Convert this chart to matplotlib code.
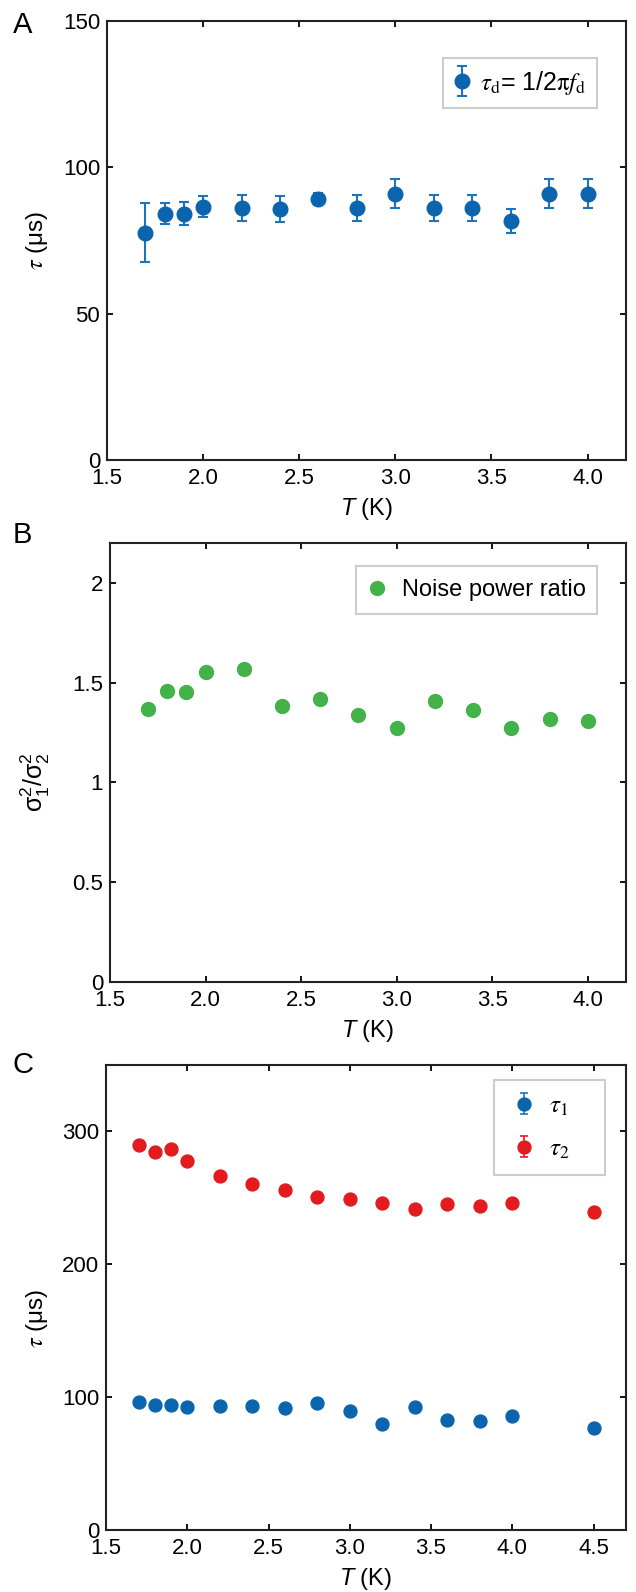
import matplotlib
matplotlib.use("Agg")
import matplotlib.pyplot as plt
from matplotlib.ticker import FixedLocator
from matplotlib.container import ErrorbarContainer
from matplotlib.legend_handler import HandlerErrorbar

plt.rcParams.update({
    'font.family': ['Liberation Sans', 'DejaVu Sans'],
    'font.size': 16,
    'mathtext.fontset': 'custom',
    'mathtext.rm': 'Liberation Sans',
    'mathtext.it': 'Liberation Sans:italic',
    'axes.linewidth': 1.5,
    'axes.edgecolor': '#222222',
    'xtick.direction': 'in',
    'ytick.direction': 'in',
    'xtick.top': True,
    'ytick.right': True,
    'xtick.major.size': 4,
    'ytick.major.size': 4,
    'xtick.major.width': 1.3,
    'ytick.major.width': 1.3,
})

# panel A
temps_a = [1.7, 1.8, 1.9, 2.0, 2.2, 2.4, 2.6, 2.8, 3.0, 3.2, 3.4, 3.6, 3.8, 4.0]
tau_d = [77.7, 84.2, 84.2, 86.5, 86.0, 85.7, 89.2, 86.0, 91.0, 86.0, 86.0, 81.7, 91.0, 91.0]
tau_d_err = [10.0, 3.5, 3.8, 3.6, 4.5, 4.4, 2.0, 4.5, 5.0, 4.5, 4.5, 4.0, 5.0, 5.0]

# panel B
temps_b = [1.7, 1.8, 1.9, 2.0, 2.2, 2.4, 2.6, 2.8, 3.0, 3.2, 3.4, 3.6, 3.8, 4.0]
noise_ratio = [1.366, 1.459, 1.454, 1.553, 1.570, 1.382, 1.416, 1.339, 1.274,
               1.409, 1.361, 1.272, 1.317, 1.310]

# panel C
temps_c = [1.7, 1.8, 1.9, 2.0, 2.2, 2.4, 2.6, 2.8, 3.0, 3.2, 3.4, 3.6, 3.8, 4.0, 4.5]
tau_1 = [96.2, 93.9, 93.9, 92.6, 93.6, 93.1, 91.8, 95.9, 89.5, 80.1, 92.6, 82.9,
         82.1, 85.7, 76.8]
tau_1_err = [2.0, 2.0, 2.0, 2.0, 2.0, 2.0, 2.0, 2.0, 2.0, 2.0, 2.0, 2.0, 2.0, 2.0, 2.0]
tau_2 = [289.8, 284.7, 286.7, 278.1, 266.8, 260.5, 256.1, 250.5, 249.0, 246.4,
         241.6, 245.7, 243.6, 246.4, 239.5]
tau_2_err = [2.5, 2.5, 2.5, 2.5, 2.5, 2.5, 2.5, 2.5, 2.5, 2.5, 2.5, 2.5, 2.5, 2.5, 2.5]

xticks_ab = [1.5, 2.0, 2.5, 3.0, 3.5, 4.0]
xticks_c = [1.5, 2.0, 2.5, 3.0, 3.5, 4.0, 4.5]
yticks_a = [0, 50, 100, 150]
yticks_b = [0, 0.5, 1, 1.5, 2]
yticks_b_labels = ['0', '0.5', '1', '1.5', '2']
yticks_c = [0, 100, 200, 300]

blue = '#0b64ae'
bar_blue = '#1a74c0'
green = '#43b248'
red = '#e21b1e'

W, H = 636, 1592
fig = plt.figure(figsize=(W / 100, H / 100), dpi=100)


def box(left, right, top, bottom):
    return [left / W, (H - bottom) / H, (right - left) / W, (bottom - top) / H]


ax_a = fig.add_axes(box(107, 626, 21, 460))
ax_b = fig.add_axes(box(110, 626, 543, 982))
ax_c = fig.add_axes(box(106, 626, 1065, 1530))


def tau_label(ax, x, y):
    ax.set_ylabel(r'$\tau$ (μs)', fontsize=17.5, math_fontfamily='stix')
    ax.yaxis.set_label_coords(x, y)


def t_label(ax):
    ax.set_xlabel(r'$T$ (K)', fontsize=17, labelpad=5)


def frame_style(leg):
    fr = leg.get_frame()
    fr.set_edgecolor('#cccccc')
    fr.set_linewidth(1.5)


# A
ax_a.errorbar(temps_a, tau_d, yerr=tau_d_err, fmt='o', color=blue, ms=10.5,
              ecolor=bar_blue, elinewidth=1.5, capsize=3.5, capthick=1.5,
              label=r'$\tau_{\mathrm{d}}$= 1/2$\mathrm{\pi}$$f_{\mathrm{d}}$')
ax_a.set_xlim(1.5, 4.2)
ax_a.set_ylim(0, 150)
ax_a.xaxis.set_major_locator(FixedLocator(xticks_ab))
ax_a.set_xticklabels([f'{v:.1f}' for v in xticks_ab])
ax_a.yaxis.set_major_locator(FixedLocator(yticks_a))
tau_label(ax_a, -0.11, 0.5)
t_label(ax_a)
leg = ax_a.legend(loc='upper left', bbox_to_anchor=(0.647, 0.716, 0.297, 0.2),
                  mode='expand', borderaxespad=0, fancybox=False, framealpha=1,
                  handlelength=0.6, handletextpad=0.45, borderpad=0.45, fontsize=18,
                  numpoints=1,
                  handler_map={ErrorbarContainer: HandlerErrorbar(yerr_size=0.6)})
frame_style(leg)
for t in leg.get_texts():
    t.set_math_fontfamily('stix')

# B
ax_b.plot(temps_b, noise_ratio, 'o', color=green, ms=10, label='Noise power ratio')
ax_b.set_xlim(1.5, 4.2)
ax_b.set_ylim(0, 2.2)
ax_b.xaxis.set_major_locator(FixedLocator(xticks_ab))
ax_b.set_xticklabels([f'{v:.1f}' for v in xticks_ab])
ax_b.yaxis.set_major_locator(FixedLocator(yticks_b))
ax_b.set_yticklabels(yticks_b_labels)
ax_b.set_ylabel(r'$\mathrm{\sigma}_1^2/\mathrm{\sigma}_2^2$', fontsize=18)
ax_b.yaxis.set_label_coords(-0.112, 0.456)
t_label(ax_b)
leg = ax_b.legend(loc='upper left', bbox_to_anchor=(0.477, 0.748, 0.467, 0.2),
                  mode='expand', borderaxespad=0, fancybox=False, framealpha=1,
                  handlelength=0.7, handletextpad=0.7, borderpad=0.55, fontsize=17,
                  numpoints=1)
frame_style(leg)

# C
ax_c.errorbar(temps_c, tau_1, yerr=tau_1_err, fmt='o', color=blue, ms=9.3,
              ecolor=bar_blue, elinewidth=1.2, capsize=3, capthick=1.2,
              label=r'$\tau_{1}$')
ax_c.errorbar(temps_c, tau_2, yerr=tau_2_err, fmt='o', color=red, ms=9.3,
              ecolor=red, elinewidth=1.2, capsize=3, capthick=1.2,
              label=r'$\tau_{2}$')
ax_c.set_xlim(1.5, 4.7)
ax_c.set_ylim(0, 350)
ax_c.xaxis.set_major_locator(FixedLocator(xticks_c))
ax_c.set_xticklabels([f'{v:.1f}' for v in xticks_c])
ax_c.yaxis.set_major_locator(FixedLocator(yticks_c))
tau_label(ax_c, -0.108, 0.456)
t_label(ax_c)
leg = ax_c.legend(loc='upper left', bbox_to_anchor=(0.746, 0.768, 0.214, 0.2),
                  mode='expand', borderaxespad=0, fancybox=False, framealpha=1,
                  handlelength=1.3, handletextpad=0.35, borderpad=0.55,
                  labelspacing=0.75, fontsize=18, numpoints=1,
                  handler_map={ErrorbarContainer: HandlerErrorbar(yerr_size=0.42)})
frame_style(leg)
for t in leg.get_texts():
    t.set_math_fontfamily('stix')

for ax in (ax_a, ax_b, ax_c):
    ax.tick_params(labelsize=16)
    ax.tick_params(axis='x', pad=6)
    ax.tick_params(axis='y', pad=5)

fig.text(13 / W, 1 - 33 / H, 'A', fontsize=21, va='baseline')
fig.text(13 / W, 1 - 543 / H, 'B', fontsize=21, va='baseline')
fig.text(13 / W, 1 - 1073 / H, 'C', fontsize=21, va='baseline')

fig.savefig('out.png', dpi=100)
